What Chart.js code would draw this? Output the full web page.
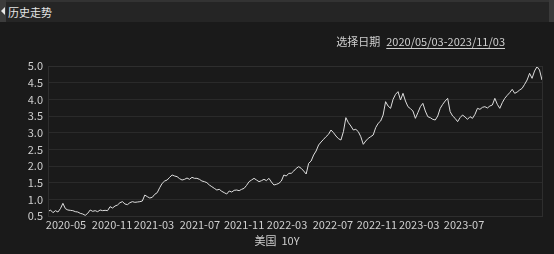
<!DOCTYPE html>
<html>
<head>
<meta charset="utf-8">
<script src="https://cdn.jsdelivr.net/npm/chart.js@4/dist/chart.umd.min.js"></script>
<style>
  html, body { margin: 0; padding: 0; background: #1a1a1a; width: 554px; height: 254px; overflow: hidden; }
  body { position: relative; font-family: "Noto Sans CJK SC", "Noto Sans", sans-serif; }
  #wrap { position: absolute; left: 0; top: 0; width: 554px; height: 254px; }
  #topline { position: absolute; left: 0; top: 0; width: 554px; height: 2px; background: #333; }
  #header { position: absolute; left: 0; top: 2px; width: 554px; height: 20px; background: #252525; }
  #lstrip { position: absolute; left: 0; top: 0; width: 6px; height: 22px; background: #3c3c3c; }
  #arrow { position: absolute; left: 1px; top: 7px; width: 0; height: 0; border-top: 4px solid transparent; border-bottom: 4px solid transparent; border-right: 4px solid #e8e8e8; }
  #rstrip { position: absolute; left: 549px; top: 0; width: 5px; height: 22px; background: #3a3a3a; }
  #title { position: absolute; left: 8px; top: 3px; font-size: 11px; line-height: 18px; color: #e6e6e6; }
  #range { position: absolute; right: 49px; top: 32px; font-size: 11px; line-height: 18px; color: #cfcfcf; white-space: nowrap; }
  #range span { margin-right: 6px; }
  #range u { text-underline-offset: 2px; }
  #legend { position: absolute; left: 0; width: 554px; top: 232px; text-align: center; font-size: 11px; line-height: 16px; color: #cfcfcf; }
  canvas { position: absolute; left: 0; top: 0; }
</style>
</head>
<body>
<div id="wrap"><canvas id="c" width="554" height="254"></canvas></div>
<div id="topline"></div>
<div id="header"></div>
<div id="lstrip"><div id="arrow"></div></div>
<div id="rstrip"></div>
<div id="title">历史走势</div>
<div id="range"><span>选择日期</span><u>2020/05/03-2023/11/03</u></div>
<div id="legend">美国&nbsp;&nbsp;10Y</div>
<script>
const seriesName = "美国 10Y";
const yields = [
  0.63, 0.68, 0.60, 0.66, 0.62, 0.72, 0.88, 0.72, 0.68, 0.67,
  0.66, 0.63, 0.62, 0.58, 0.56, 0.52, 0.58, 0.68, 0.64, 0.66,
  0.63, 0.68, 0.66, 0.67, 0.66, 0.78, 0.74, 0.80, 0.83, 0.90,
  0.93, 0.86, 0.84, 0.90, 0.93, 0.91, 0.92, 0.93, 0.95, 1.13,
  1.08, 1.04, 1.06, 1.15, 1.20, 1.35, 1.48, 1.55, 1.58, 1.66,
  1.73, 1.70, 1.68, 1.62, 1.58, 1.60, 1.64, 1.60, 1.66, 1.63,
  1.63, 1.60, 1.55, 1.53, 1.50, 1.43, 1.38, 1.33, 1.28, 1.30,
  1.24, 1.20, 1.16, 1.25, 1.22, 1.27, 1.28, 1.26, 1.30, 1.33,
  1.42, 1.53, 1.58, 1.63, 1.58, 1.53, 1.56, 1.60, 1.56, 1.63,
  1.52, 1.43, 1.45, 1.48, 1.55, 1.73, 1.70, 1.78, 1.78, 1.85,
  1.93, 1.98, 1.93, 1.85, 1.76, 2.08, 2.15, 2.33, 2.45, 2.63,
  2.72, 2.80, 2.88, 2.95, 3.08, 3.00, 2.90, 2.82, 2.78, 3.03,
  3.45, 3.30, 3.20, 3.08, 3.10, 3.03, 2.88, 2.65, 2.75, 2.83,
  2.88, 2.93, 3.15, 3.28, 3.35, 3.53, 3.93, 3.80, 3.73, 4.00,
  4.15, 4.23, 3.98, 4.18, 3.95, 3.78, 3.72, 3.65, 3.43, 3.60,
  3.78, 3.88, 3.65, 3.48, 3.45, 3.40, 3.38, 3.50, 3.73, 3.85,
  3.95, 4.03, 3.63, 3.50, 3.43, 3.33, 3.45, 3.53, 3.47, 3.40,
  3.48, 3.43, 3.55, 3.73, 3.70, 3.76, 3.78, 3.74, 3.80, 3.83,
  4.03, 3.85, 3.73, 3.90, 4.03, 4.12, 4.20, 4.30, 4.18, 4.22,
  4.28, 4.33, 4.45, 4.58, 4.78, 4.63, 4.85, 4.98, 4.88, 4.58
];
const xTickLabels = ["2020-05","2020-11","2021-03","2021-07","2021-11","2022-03","2022-07","2022-11","2023-03","2023-07"];
const xTickIndex = [7.25, 25.8, 42.7, 61.2, 79, 96.3, 114.8, 132.5, 149.5, 167.6];
const yMin = 0.5, yMax = 5.0, yStep = 0.5;

const points = yields.map((v, i) => ({ x: i, y: v }));
const frame = {
  id: 'frame',
  afterDraw(chart) {
    const { ctx, chartArea: a } = chart;
    ctx.save();
    ctx.strokeStyle = '#2e2e2e';
    ctx.lineWidth = 1;
    ctx.strokeRect(Math.round(a.left) + 0.5, Math.round(a.top) + 0.5, Math.round(a.right - a.left), Math.round(a.bottom - a.top));
    ctx.restore();
  }
};

new Chart(document.getElementById('c'), {
  type: 'line',
  data: { datasets: [{ label: seriesName, data: points, borderColor: '#dedede', borderWidth: 1, pointRadius: 0, tension: 0, fill: false }] },
  options: {
    responsive: false, animation: false,
    layout: { padding: { top: 66, right: 12, left: 0, bottom: 0 } },
    plugins: { legend: { display: false }, tooltip: { enabled: false } },
    scales: {
      x: {
        type: 'linear', min: 0, max: yields.length - 1,
        afterBuildTicks(s) { s.ticks = xTickIndex.map(v => ({ value: v })); },
        afterFit(s) { s.height = 38; },
        grid: { display: false, drawTicks: false },
        border: { display: false },
        ticks: {
          autoSkip: false, maxRotation: 0, padding: 2, color: '#cfcfcf',
          font: { size: 11, family: '"Noto Sans CJK SC", "Noto Sans", sans-serif' },
          callback(v) { const k = xTickIndex.indexOf(v); return k >= 0 ? xTickLabels[k] : ''; }
        }
      },
      y: {
        min: yMin, max: yMax,
        afterFit(s) { s.width = 48; },
        grid: { color: '#2a2a2a', drawTicks: false },
        border: { display: false },
        ticks: {
          stepSize: yStep, padding: 5, color: '#cfcfcf',
          font: { size: 11, family: '"Noto Sans CJK SC", "Noto Sans", sans-serif' },
          callback(v) { return v.toFixed(1); }
        }
      }
    }
  },
  plugins: [frame]
});
</script>
</body>
</html>
